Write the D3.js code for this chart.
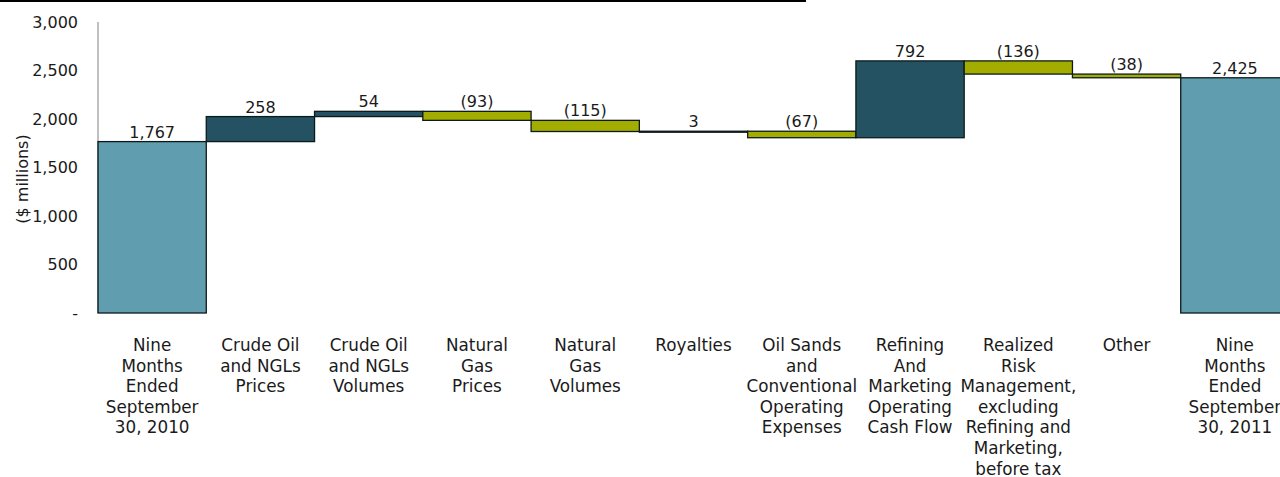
<!DOCTYPE html>
<html>
<head>
<meta charset="utf-8">
<script src="https://cdn.jsdelivr.net/npm/d3@7"></script>
<style>
  body { margin: 0; background: #fff; }
  svg { display: block; font-family: "DejaVu Sans", Verdana, sans-serif; }
</style>
</head>
<body>
<div id="chart"></div>
<script>
// categories (label lines separated by |)
var categories = [
  "Nine|Months|Ended|September|30, 2010",
  "Crude Oil|and NGLs|Prices",
  "Crude Oil|and NGLs|Volumes",
  "Natural|Gas|Prices",
  "Natural|Gas|Volumes",
  "Royalties",
  "Oil Sands|and|Conventional|Operating|Expenses",
  "Refining|And|Marketing|Operating|Cash Flow",
  "Realized|Risk|Management,|excluding|Refining and|Marketing,|before tax",
  "Other",
  "Nine|Months|Ended|September|30, 2011"
];
// change per step; first and last are totals
var changes = [1767, 258, 54, -93, -115, 3, -67, 792, -136, -38, 2425];
var isTotal = [true, false, false, false, false, false, false, false, false, false, true];
var valueLabels = ["1,767", "258", "54", "(93)", "(115)", "3", "(67)", "792", "(136)", "(38)", "2,425"];
var yTicks = [0, 500, 1000, 1500, 2000, 2500, 3000];

var W = 1280, H = 477;
var FS = 16;
var svg = d3.select("#chart").append("svg")
  .attr("width", W)
  .attr("height", H);

// thin black rule at very top
svg.append("rect")
  .attr("x", 0).attr("y", 0)
  .attr("width", 806).attr("height", 2)
  .attr("fill", "#000");

// build waterfall rows
var running = 0;
var rows = changes.map(function (v, i) {
  var start, end;
  if (isTotal[i]) { start = 0; end = v; running = v; }
  else { start = running; end = running + v; running = end; }
  return { cat: categories[i], start: start, end: end, v: v, total: isTotal[i], label: valueLabels[i] };
});

var x = d3.scaleBand()
  .domain(categories)
  .range([98, 1289])
  .padding(0);

var y = d3.scaleLinear()
  .domain([0, 3000])
  .range([313, 22]);

// y axis
var yAxis = svg.append("g")
  .attr("transform", "translate(98,0)")
  .call(d3.axisLeft(y)
    .tickValues(yTicks)
    .tickSize(0)
    .tickPadding(20)
    .tickFormat(function (d) { return d === 0 ? "-" : d3.format(",")(d); }));
yAxis.select(".domain").attr("stroke", "#808080").attr("d", "M0," + y(3000) + "V" + y(0));
yAxis.selectAll("text")
  .attr("font-size", FS)
  .attr("fill", "#1a1a1a")
  .attr("font-family", "DejaVu Sans, Verdana, sans-serif");

svg.append("text")
  .attr("transform", "translate(22,179) rotate(-90)")
  .attr("text-anchor", "middle")
  .attr("dy", "0.35em")
  .attr("font-size", FS)
  .attr("fill", "#1a1a1a")
  .text("($ millions)");

// bars
function fillOf(d) {
  if (d.total) return "#609DAE";
  return d.v >= 0 ? "#245262" : "#A3AD00";
}

svg.selectAll("rect.bar")
  .data(rows)
  .enter()
  .append("rect")
  .attr("class", "bar")
  .attr("x", function (d) { return x(d.cat); })
  .attr("y", function (d) { return y(Math.max(d.start, d.end)); })
  .attr("width", x.bandwidth())
  .attr("height", function (d) { return Math.max(1, Math.abs(y(d.start) - y(d.end))); })
  .attr("fill", fillOf)
  .attr("stroke", "#0d1a1a")
  .attr("stroke-width", 1.3);

// value labels
svg.selectAll("text.val")
  .data(rows)
  .enter()
  .append("text")
  .attr("class", "val")
  .attr("x", function (d) { return x(d.cat) + x.bandwidth() / 2; })
  .attr("y", function (d) { return y(Math.max(d.start, d.end)) - 4; })
  .attr("text-anchor", "middle")
  .attr("font-size", FS)
  .attr("fill", "#1a1a1a")
  .text(function (d) { return d.label; });

// category labels
var cat = svg.selectAll("text.cat")
  .data(categories)
  .enter()
  .append("text")
  .attr("class", "cat")
  .attr("text-anchor", "middle")
  .attr("font-size", 16.8)
  .attr("fill", "#1a1a1a")
  .attr("transform", function (d) { return "translate(" + (x(d) + x.bandwidth() / 2) + ",351)"; });

cat.selectAll("tspan")
  .data(function (d) { return d.split("|"); })
  .enter()
  .append("tspan")
  .attr("x", 0)
  .attr("dy", function (d, i) { return i === 0 ? 0 : 20.6; })
  .text(function (d) { return d; });
</script>
</body>
</html>
